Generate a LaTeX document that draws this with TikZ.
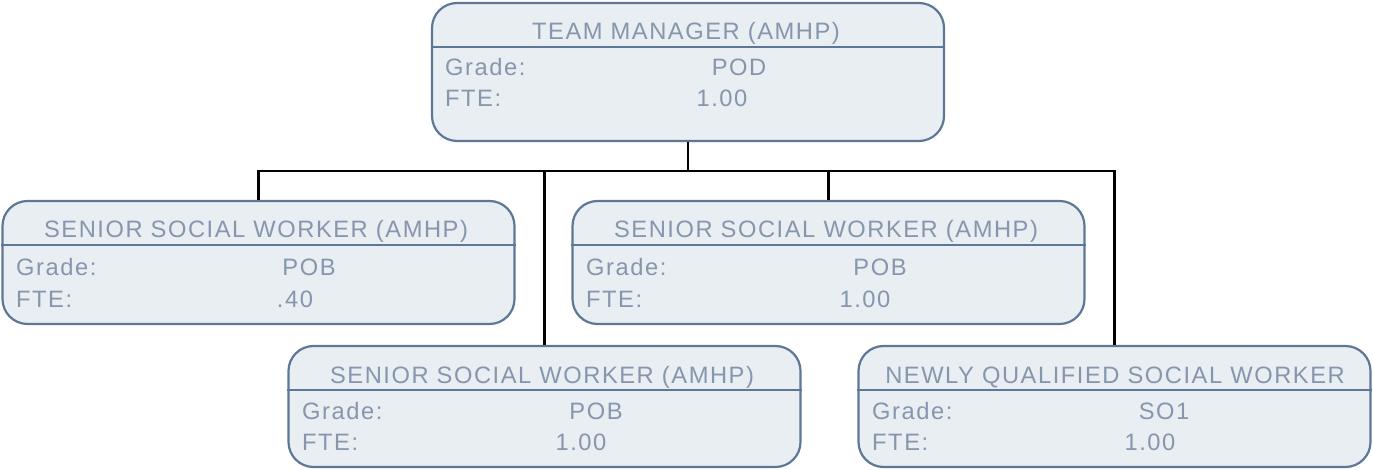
\documentclass[tikz,border=0pt]{standalone}
\usepackage{fontspec}
\setmainfont{Liberation Sans}[LetterSpace=6.5]
\definecolor{boxline}{HTML}{5E7797}
\definecolor{boxfill}{HTML}{E8EEF2}
\definecolor{boxtext}{HTML}{8696AD}
\begin{document}
\begin{tikzpicture}[x=1pt, y=-1pt,
        post/.style={draw=boxline, fill=boxfill, line width=2.2pt, rounded corners=25pt,
            minimum width=512pt, inner sep=0pt},
        rule/.style={draw=boxline, line width=2pt},
        txt/.style={text=boxtext, inner sep=0pt, anchor=base, font=\fontsize{23.7}{28}\selectfont},
        lbl/.style={txt, anchor=base west},
        link/.style={line width=2.2pt}]

        \useasboundingbox (0, 0) rectangle (1373, 470);

        % boxes
        \node (tm) at (688, 72) [post, minimum height=138pt] {};
        \node (ssw1) at (258.5, 262.5) [post, minimum height=123pt] {};
        \node (ssw2) at (828.5, 262.5) [post, minimum height=123pt] {};
        \node (ssw3) at (544.5, 406.5) [post, minimum height=121pt] {};
        \node (nqsw) at (1114.5, 406.5) [post, minimum height=121pt] {};

        % title rules
        \draw[rule] ([yshift=-45pt]tm.north west) -- ([yshift=-45pt]tm.north east);
        \draw[rule] ([yshift=-45pt]ssw1.north west) -- ([yshift=-45pt]ssw1.north east);
        \draw[rule] ([yshift=-45pt]ssw2.north west) -- ([yshift=-45pt]ssw2.north east);
        \draw[rule] ([yshift=-45pt]ssw3.north west) -- ([yshift=-45pt]ssw3.north east);
        \draw[rule] ([yshift=-45pt]nqsw.north west) -- ([yshift=-45pt]nqsw.north east);

        % team manager
        \node (tm-t) at (686, 40) [txt] {TEAM MANAGER (AMHP)};
        \node (tm-g) at (445, 76) [lbl] {Grade:};
        \node (tm-gv) at (739, 76) [txt] {POD};
        \node (tm-f) at (445, 107) [lbl] {FTE:};
        \node (tm-fv) at (722, 107) [txt] {1.00};

        % senior social worker, left
        \node (ssw1-t) at (256, 238) [txt] {SENIOR SOCIAL WORKER (AMHP)};
        \node (ssw1-g) at (16, 276) [lbl] {Grade:};
        \node (ssw1-gv) at (309, 276) [txt] {POB};
        \node (ssw1-f) at (16, 307) [lbl] {FTE:};
        \node (ssw1-fv) at (295, 307) [txt] {.40};

        % senior social worker, right
        \node (ssw2-t) at (826, 238) [txt] {SENIOR SOCIAL WORKER (AMHP)};
        \node (ssw2-g) at (586, 276) [lbl] {Grade:};
        \node (ssw2-gv) at (880, 276) [txt] {POB};
        \node (ssw2-f) at (586, 307) [lbl] {FTE:};
        \node (ssw2-fv) at (865, 307) [txt] {1.00};

        % senior social worker, bottom
        \node (ssw3-t) at (542, 383) [txt] {SENIOR SOCIAL WORKER (AMHP)};
        \node (ssw3-g) at (302, 419) [lbl] {Grade:};
        \node (ssw3-gv) at (596, 419) [txt] {POB};
        \node (ssw3-f) at (302, 450) [lbl] {FTE:};
        \node (ssw3-fv) at (581, 450) [txt] {1.00};

        % newly qualified social worker
        \node (nqsw-t) at (1115, 383) [txt] {NEWLY QUALIFIED SOCIAL WORKER};
        \node (nqsw-g) at (872, 419) [lbl] {Grade:};
        \node (nqsw-gv) at (1164, 419) [txt] {SO1};
        \node (nqsw-f) at (872, 450) [lbl] {FTE:};
        \node (nqsw-fv) at (1150, 450) [txt] {1.00};

        % connectors
        \coordinate (bus) at (688, 171);
        \draw[link] (tm.south) -- (bus);
        \draw[link] (bus) -| (ssw1.north);
        \draw[link] (bus) -| (ssw3.north);
        \draw[link] (bus) -| (ssw2.north);
        \draw[link] (bus) -| (nqsw.north);

    \end{tikzpicture}
\end{document}
